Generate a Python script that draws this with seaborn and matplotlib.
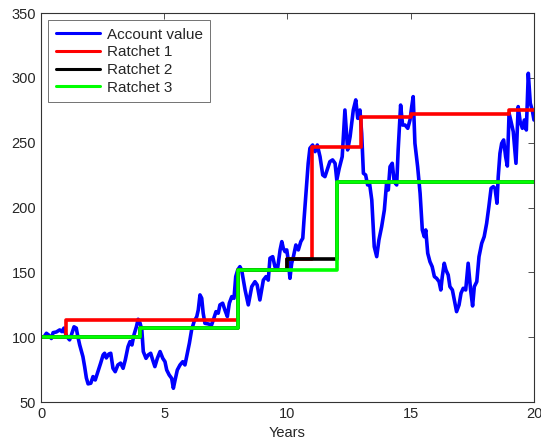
import matplotlib
matplotlib.use("Agg")
import matplotlib.pyplot as plt
import numpy as np
import pandas as pd
import seaborn as sns

# account value path (years, value)
years = [0.00, 0.12, 0.22, 0.31, 0.42, 0.49, 0.62, 0.76, 0.85, 0.93, 0.99, 1.07, 1.16, 1.23, 1.34,
         1.43, 1.50, 1.57, 1.70, 1.77, 1.84, 1.91, 2.02, 2.11, 2.20, 2.31, 2.42, 2.52, 2.58, 2.65,
         2.75, 2.83, 2.92, 3.01, 3.12, 3.23, 3.33, 3.42, 3.53, 3.61, 3.69, 3.77, 3.87, 3.94, 4.02,
         4.09, 4.15, 4.26, 4.35, 4.45, 4.53, 4.62, 4.72, 4.83, 4.94, 5.03, 5.10, 5.20, 5.30, 5.37,
         5.44, 5.53, 5.64, 5.75, 5.84, 5.91, 6.02, 6.11, 6.21, 6.32, 6.38, 6.45, 6.52, 6.58, 6.65,
         6.79, 6.92, 6.99, 7.10, 7.19, 7.26, 7.37, 7.46, 7.56, 7.64, 7.74, 7.83, 7.90, 7.98, 8.07,
         8.14, 8.28, 8.41, 8.55, 8.68, 8.77, 8.88, 9.02, 9.13, 9.22, 9.29, 9.40, 9.49, 9.59, 9.70,
         9.77, 9.83, 9.90, 9.97, 10.03, 10.10, 10.17, 10.24, 10.34, 10.44, 10.54, 10.62, 10.67,
         10.75, 10.84, 10.91, 11.02, 11.12, 11.21, 11.32, 11.43, 11.52, 11.61, 11.72, 11.83, 11.93,
         12.00, 12.10, 12.22, 12.33, 12.44, 12.54, 12.67, 12.77, 12.85, 12.94, 13.01, 13.08, 13.17,
         13.25, 13.32, 13.42, 13.52, 13.62, 13.71, 13.82, 13.93, 14.02, 14.09, 14.16, 14.25, 14.33,
         14.43, 14.49, 14.59, 14.67, 14.77, 14.88, 14.97, 15.04, 15.10, 15.17, 15.28, 15.38, 15.47,
         15.55, 15.61, 15.69, 15.78, 15.87, 15.96, 16.05, 16.15, 16.22, 16.28, 16.36, 16.43, 16.52,
         16.59, 16.69, 16.77, 16.86, 16.96, 17.04, 17.13, 17.23, 17.33, 17.43, 17.51, 17.58, 17.68,
         17.77, 17.88, 17.98, 18.08, 18.17, 18.26, 18.35, 18.42, 18.50, 18.55, 18.62, 18.69, 18.77,
         18.85, 18.92, 18.99, 19.07, 19.16, 19.27, 19.36, 19.44, 19.53, 19.61, 19.69, 19.77, 19.85,
         19.93, 20.00]
account = [100.0, 100.2, 103.0, 101.7, 99.0, 103.5, 104.0, 105.6, 104.3, 107.0, 103.0, 100.0, 97.9,
           101.6, 108.0, 107.0, 100.0, 94.0, 85.0, 77.3, 68.6, 64.0, 64.5, 69.6, 67.0, 73.4, 80.0,
           86.3, 87.6, 84.0, 87.0, 87.6, 76.0, 73.4, 78.6, 80.0, 76.0, 82.5, 92.7, 96.6, 94.0, 101.7,
           108.0, 113.8, 110.7, 105.6, 88.9, 83.7, 86.3, 87.6, 82.5, 77.3, 83.7, 88.9, 83.7, 81.1,
           74.7, 70.9, 68.3, 60.6, 67.0, 74.7, 78.6, 81.1, 78.6, 85.0, 95.4, 105.6, 112.0, 115.9,
           121.0, 132.6, 130.0, 118.5, 110.7, 110.2, 109.4, 113.3, 119.7, 118.5, 124.9, 126.2, 121.0,
           115.9, 126.2, 131.3, 130.0, 146.7, 151.8, 154.4, 151.8, 136.4, 124.9, 139.0, 142.8, 140.3,
           128.7, 144.0, 146.7, 144.0, 160.9, 162.1, 154.4, 151.8, 167.3, 173.7, 168.6, 166.0, 167.3,
           159.6, 145.4, 157.0, 162.1, 171.1, 167.3, 173.7, 176.3, 190.4, 211.0, 234.1, 245.7, 248.2,
           243.1, 248.2, 239.2, 225.1, 223.8, 229.0, 235.4, 236.7, 234.1, 221.2, 230.3, 239.2, 275.2,
           244.4, 254.6, 275.2, 283.0, 268.8, 275.2, 257.2, 226.4, 225.1, 217.4, 219.9, 205.8, 169.8,
           162.1, 175.0, 185.2, 198.1, 218.7, 213.5, 231.5, 234.1, 219.9, 217.4, 244.4, 279.0, 263.6,
           263.6, 261.1, 267.5, 277.8, 285.5, 249.5, 231.5, 211.0, 182.7, 177.5, 182.7, 164.7, 158.2,
           154.4, 146.7, 145.4, 142.8, 136.4, 146.7, 157.0, 151.8, 148.0, 139.0, 136.4, 128.7, 119.7,
           124.9, 133.9, 137.7, 136.4, 157.0, 136.4, 124.1, 139.0, 142.8, 162.1, 172.4, 177.5, 187.8,
           200.7, 214.8, 216.1, 214.8, 203.3, 223.8, 241.8, 249.5, 252.1, 239.2, 232.0, 272.7, 266.2,
           258.5, 234.1, 277.8, 266.2, 261.1, 267.5, 259.8, 303.5, 280.4, 275.2, 267.5]

# ratchet levels (step changes)
r1_years = [0, 1, 8, 10, 11, 13, 15, 19, 20]
r1_vals = [100, 113, 152, 160, 247, 270, 272, 275, 275]
r2_years = [0, 4, 8, 10, 12, 20]
r2_vals = [100, 107, 152, 160, 220, 220]
r3_years = [0, 4, 8, 12, 20]
r3_vals = [100, 107, 152, 220, 220]

sns.set_theme(style="white")
plt.rcParams['font.family'] = ['Liberation Sans', 'DejaVu Sans']
plt.rcParams.update({'xtick.direction': 'in', 'ytick.direction': 'in',
                     'xtick.major.size': 4, 'ytick.major.size': 4,
                     'axes.edgecolor': '#333333', 'axes.linewidth': 0.8})

fig = plt.figure(figsize=(5.41, 4.41), dpi=100)
ax = fig.add_axes([0.0758, 0.0884, 0.9112, 0.8821])

av = pd.DataFrame({'t': years, 'v': account})
sns.lineplot(data=av, x='t', y='v', ax=ax, color='#0000ff', lw=2.6, label='Account value')
for ty, vals, col, lab in [(r1_years, r1_vals, '#ff0000', 'Ratchet 1'),
                           (r2_years, r2_vals, '#000000', 'Ratchet 2'),
                           (r3_years, r3_vals, '#00ff00', 'Ratchet 3')]:
    sns.lineplot(x=ty, y=vals, ax=ax, color=col, lw=2.6, drawstyle='steps-post', label=lab)

ax.set_xlim(0, 20)
ax.set_ylim(50, 350)
ax.set_xticks([0, 5, 10, 15, 20])
ax.set_yticks(range(50, 351, 50))
ax.tick_params(labelsize=10.5, top=True, right=True, length=4, width=0.6, color='#333333')
ax.set_xlabel('Years', fontsize=10.5, labelpad=4)
ax.set_ylabel('')

leg = ax.legend(loc='upper left', fontsize=11, frameon=True, fancybox=False,
                edgecolor='#333333', borderpad=0.5, labelspacing=0.24, handlelength=2.9,
                handletextpad=0.45, borderaxespad=0.45)
leg.get_frame().set_linewidth(0.6)
for h in leg.get_lines():
    h.set_linewidth(2.2)

fig.savefig('out.png', dpi=100)
